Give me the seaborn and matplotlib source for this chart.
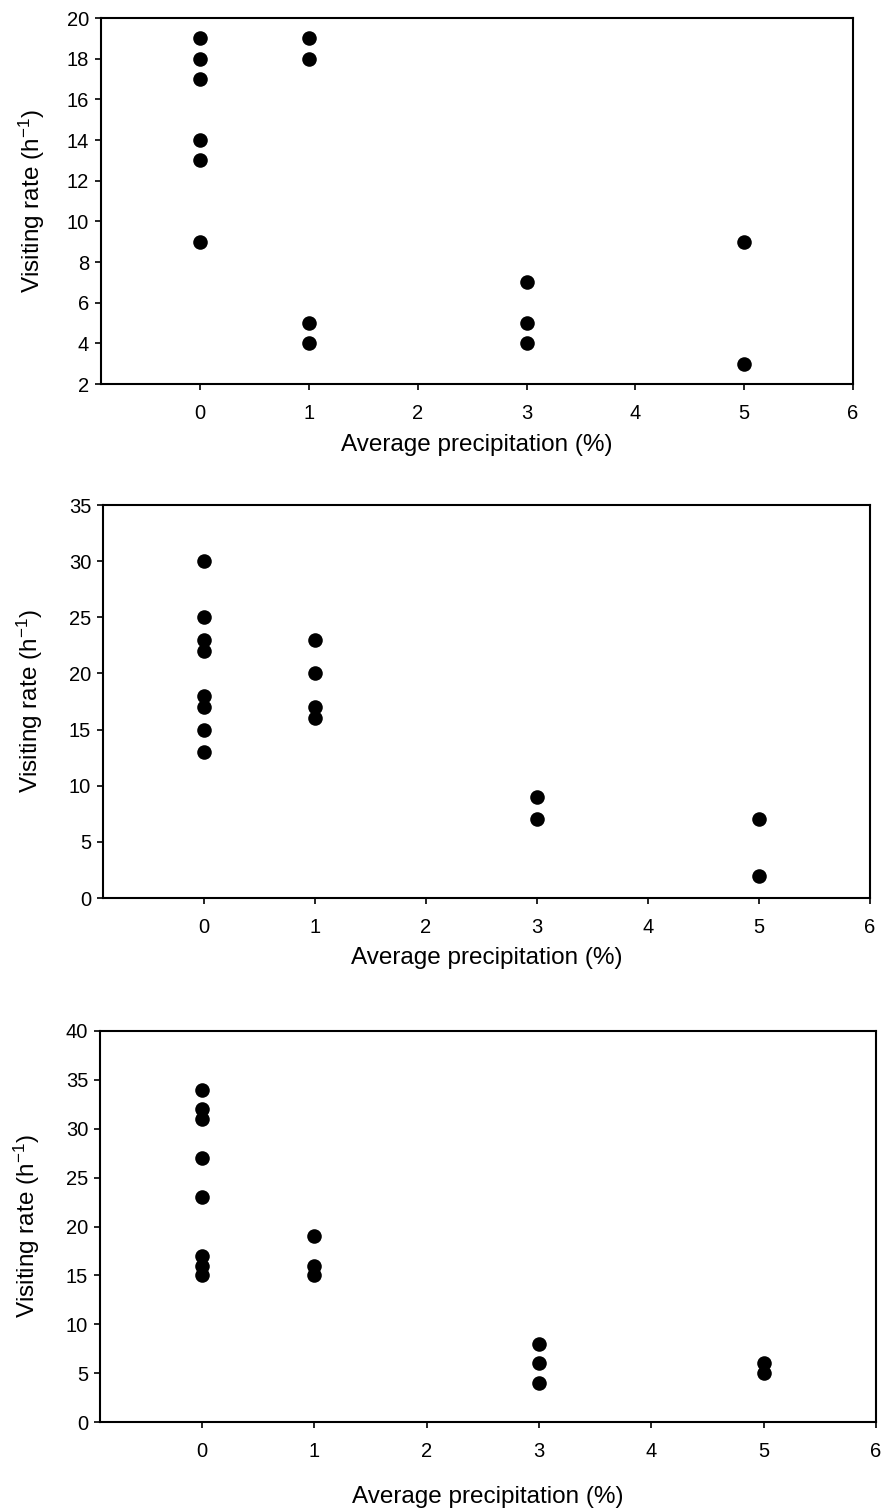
import matplotlib
matplotlib.use("Agg")
import matplotlib.pyplot as plt
import seaborn as sns
import pandas as pd

# ---- data ----
precip_a = [0, 0, 0, 0, 0, 0, 1, 1, 1, 1, 3, 3, 3, 5, 5]
rate_a = [19, 18, 17, 14, 13, 9, 19, 18, 5, 4, 7, 5, 4, 9, 3]

precip_b = [0, 0, 0, 0, 0, 0, 0, 0, 1, 1, 1, 1, 3, 3, 5, 5]
rate_b = [30, 25, 23, 22, 18, 17, 15, 13, 23, 20, 17, 16, 9, 7, 7, 2]

precip_c = [0, 0, 0, 0, 0, 0, 0, 0, 1, 1, 1, 3, 3, 3, 5, 5]
rate_c = [34, 32, 31, 27, 23, 17, 16, 15, 19, 16, 15, 8, 6, 4, 6, 5]

x_ticks = [0, 1, 2, 3, 4, 5, 6]
y_ticks_a = [2, 4, 6, 8, 10, 12, 14, 16, 18, 20]
y_ticks_b = [0, 5, 10, 15, 20, 25, 30, 35]
y_ticks_c = [0, 5, 10, 15, 20, 25, 30, 35, 40]

x_label = "Average precipitation (%)"
y_label = "Visiting rate (h$^{-1}$)"

sns.set_style("white")
plt.rcParams["font.family"] = ["Liberation Sans", "DejaVu Sans"]
plt.rcParams["mathtext.default"] = "regular"

fig = plt.figure(figsize=(8.85, 15.12), dpi=100)

W, H = 885, 1512
def box(l, r, t, b):
    return [l / W, 1 - b / H, (r - l) / W, (b - t) / H]

panels = [
    (box(101, 853, 18, 384), precip_a, rate_a, y_ticks_a, (2, 20), 8, 47),
    (box(103, 870, 505, 898), precip_b, rate_b, y_ticks_b, (0, 35), 7, 45),
    (box(100, 876, 1031, 1422), precip_c, rate_c, y_ticks_c, (0, 40), 18, 42),
]

for rect, xs, ys, yt, ylim, xpad, ylx in panels:
    ax = fig.add_axes(rect)
    df = pd.DataFrame({"x": xs, "y": ys})
    sns.scatterplot(data=df, x="x", y="y", ax=ax, color="black", s=110,
                    edgecolor="black", linewidth=0, legend=False)
    ax.set_xlim(-0.91, 6)
    ax.set_ylim(*ylim)
    ax.set_xticks(x_ticks)
    ax.set_yticks(yt)
    ax.tick_params(axis="both", which="major", direction="out", length=4.5,
                   width=1.2, color="black", labelsize=14.5, labelcolor="black",
                   bottom=True, left=True, top=False, right=False)
    ax.tick_params(axis="x", pad=10)
    ax.tick_params(axis="y", pad=4)
    for sp in ax.spines.values():
        sp.set_visible(True)
        sp.set_color("black")
        sp.set_linewidth(1.5)
    ax.set_xlabel(x_label, fontsize=17.5, labelpad=xpad, color="black")
    ax.set_ylabel(y_label, fontsize=17.5, color="black")
    ax.yaxis.set_label_coords(-(rect[0] * W - ylx) / (rect[2] * W), 0.5)
    ax.set_facecolor("white")

fig.savefig("out.png", dpi=100, facecolor="white")
